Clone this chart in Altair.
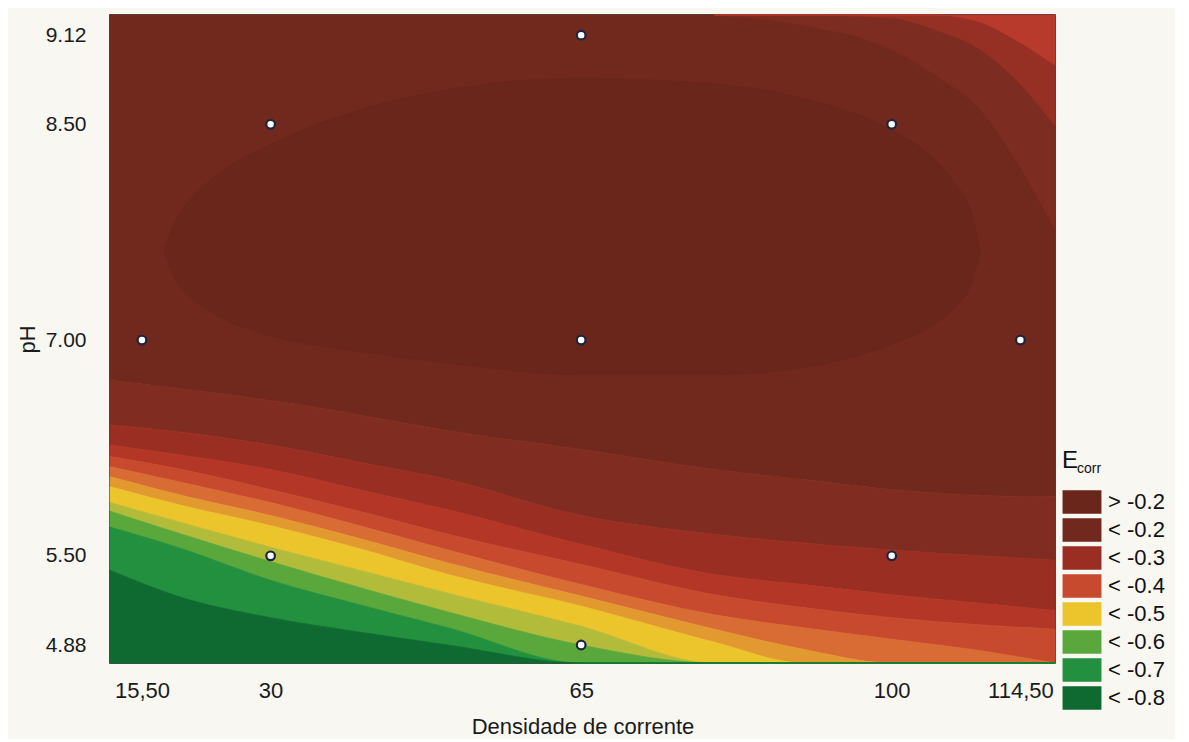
import altair as alt
import pandas as pd

# ---------------- data ----------------
# axis ticks
X_TICKS = [15.5, 30, 65, 100, 114.5]
X_TICK_LABELS = ["15,50", "30", "65", "100", "114,50"]
Y_TICKS = [4.88, 5.50, 7.00, 8.50, 9.12]
X_DOMAIN = [11.9, 118.4]
Y_DOMAIN = [4.755, 9.26]

# experimental design points (white dots)
PT_DENS = [15.5, 30, 30, 65, 65, 65, 100, 100, 114.5]
PT_PH = [7.00, 8.50, 5.50, 9.12, 7.00, 4.88, 8.50, 5.50, 7.00]

# contour boundaries (pH of each contour line at the densities below)
X_GRID = [11.9, 20, 30, 40, 50, 65, 80, 90, 100, 110, 118.4]
C_TOP = [9.26, 9.26, 9.26, 9.26, 9.26, 9.26, 9.26, 9.26, 9.26, 9.26, 9.26]
C1 = [6.72, 6.66, 6.58, 6.48, 6.37, 6.24, 6.10, 6.03, 5.96, 5.92, 5.91]
C2 = [6.41, 6.36, 6.27, 6.15, 6.03, 5.78, 5.65, 5.59, 5.54, 5.50, 5.47]
C3 = [6.27, 6.20, 6.10, 5.96, 5.82, 5.58, 5.37, 5.30, 5.23, 5.17, 5.12]
C4 = [6.19, 6.10, 5.96, 5.81, 5.65, 5.44, 5.23, 5.14, 5.07, 5.02, 4.99]
C5 = [6.12, 6.01, 5.87, 5.71, 5.54, 5.30, 5.09, 5.00, 4.92, 4.84, 4.755]
C6 = [6.05, 5.92, 5.78, 5.62, 5.45, 5.22, 4.99, 4.85, 4.755, 4.755, 4.755]
C7 = [5.98, 5.85, 5.71, 5.55, 5.37, 5.15, 4.90, 4.755, 4.755, 4.755, 4.755]
C8 = [5.87, 5.73, 5.56, 5.40, 5.24, 5.01, 4.755, 4.755, 4.755, 4.755, 4.755]
C9 = [5.81, 5.65, 5.46, 5.28, 5.11, 4.88, 4.755, 4.755, 4.755, 4.755, 4.755]
C10 = [5.70, 5.55, 5.33, 5.16, 5.00, 4.755, 4.755, 4.755, 4.755, 4.755, 4.755]
C11 = [5.40, 5.21, 5.07, 4.97, 4.88, 4.755, 4.755, 4.755, 4.755, 4.755, 4.755]
C_BOTTOM = [4.755, 4.755, 4.755, 4.755, 4.755, 4.755, 4.755, 4.755, 4.755, 4.755, 4.755]

MAIN_BANDS = ["< -0.2", "c1", "< -0.3", "c3", "< -0.4", "c5", "c6",
              "< -0.5", "c8", "< -0.6", "< -0.7", "< -0.8"]

# top-right corner (lower values again)
X_TR = [80, 90, 100, 105, 110, 114, 118.4]
TR_OUTER = [9.26, 9.19, 9.02, 8.84, 8.60, 8.25, 7.77]
TR_MID = [9.26, 9.26, 9.24, 9.155, 9.02, 8.81, 8.49]
TR_INNER = [9.26, 9.26, 9.26, 9.26, 9.21, 9.085, 8.91]
TR_TOP = [9.26, 9.26, 9.26, 9.26, 9.26, 9.26, 9.26]
TR_BANDS = ["tr1", "tr2", "tr3"]

# darkest core ( > -0.2 )
X_CORE = [18, 19, 21, 24, 30, 40, 50, 65, 80, 90, 100, 104, 107, 109, 110]
CORE_HI = [7.62, 7.80, 7.98, 8.15, 8.36, 8.60, 8.74, 8.82, 8.78, 8.68, 8.46, 8.30, 8.10, 7.88, 7.62]
CORE_LO = [7.62, 7.45, 7.30, 7.17, 7.03, 6.92, 6.84, 6.76, 6.76, 6.81, 6.97, 7.08, 7.22, 7.40, 7.62]

LEGEND_LABELS = ["> -0.2", "< -0.2", "< -0.3", "< -0.4", "< -0.5", "< -0.6", "< -0.7", "< -0.8"]
BAND_NAMES = ["> -0.2", "< -0.2", "c1", "< -0.3", "c3", "< -0.4", "c5", "c6",
              "< -0.5", "c8", "< -0.6", "< -0.7", "< -0.8", "tr1", "tr2", "tr3"]
BAND_COLORS = ["#6a261b", "#71291d", "#802c20", "#9a2e22", "#b33626", "#c84a2e", "#d86c34", "#e29a30",
               "#ecc42c", "#b2bc3a", "#5aa83c", "#22903e", "#0e6a30", "#7c2c20", "#963024", "#b83a2c"]

# ---------------- tables ----------------
main_lines = [C_TOP, C1, C2, C3, C4, C5, C6, C7, C8, C9, C10, C11, C_BOTTOM]
rows = []
for i, name in enumerate(MAIN_BANDS):
    for j, xv in enumerate(X_GRID):
        rows.append({"x": xv, "hi": main_lines[i][j], "lo": main_lines[i + 1][j], "band": name})
main_df = pd.DataFrame(rows)

extra = []
tr_lines = [TR_OUTER, TR_MID, TR_INNER, TR_TOP]
for i, name in enumerate(TR_BANDS):
    for j, xv in enumerate(X_TR):
        extra.append({"x": xv, "lo": tr_lines[i][j], "hi": tr_lines[i + 1][j], "band": name})
for j, xv in enumerate(X_CORE):
    extra.append({"x": xv, "lo": CORE_LO[j], "hi": CORE_HI[j], "band": "> -0.2"})
extra_df = pd.DataFrame(extra)

pts_df = pd.DataFrame({"dens": PT_DENS, "ph": PT_PH})

FONT = "Liberation Sans"

label_expr = " : ".join(
    f"datum.value == {v} ? '{t}'" for v, t in zip(X_TICKS, X_TICK_LABELS)
) + " : ''"

xscale = alt.Scale(domain=X_DOMAIN, nice=False, zero=False)
yscale = alt.Scale(domain=Y_DOMAIN, nice=False, zero=False)
band_scale = alt.Scale(domain=BAND_NAMES, range=BAND_COLORS)

xaxis = alt.Axis(values=X_TICKS, labelExpr=label_expr, title="Densidade de corrente",
                 grid=False, ticks=False, domain=False, labelFont=FONT, labelFontSize=22,
                 labelColor="#1a1a1a", labelPadding=17, titleFont=FONT, titleFontSize=22,
                 titleFontWeight="normal", titleColor="#1a1a1a", titlePadding=15,
                 labelFlush=False, labelOverlap=False)
yaxis = alt.Axis(values=Y_TICKS, format=".2f", title="pH", grid=False, ticks=False, domain=False,
                 labelFont=FONT, labelFontSize=21, labelColor="#1a1a1a", labelPadding=24,
                 titleFont=FONT, titleFontSize=22, titleFontWeight="normal", titleColor="#1a1a1a",
                 titlePadding=6, labelFlush=False, labelOverlap=False)

legend = alt.Legend(values=LEGEND_LABELS, orient="none", legendX=960, legendY=475, title=None,
                    symbolType="M-1.7,-1H1.7V1H-1.7Z", symbolSize=484, symbolStrokeColor="#222222",
                    symbolStrokeWidth=1.5, symbolOpacity=1, labelFont=FONT, labelFontSize=22,
                    labelColor="#111111", labelOffset=14, rowPadding=0, padding=0)

color_enc = alt.Color("band:N", scale=band_scale, legend=legend)
stroke_enc = alt.Stroke("band:N", scale=band_scale, legend=None)

main = alt.Chart(main_df).mark_area(interpolate="monotone", strokeWidth=0.8).encode(
    x=alt.X("x:Q", scale=xscale, axis=xaxis),
    y=alt.Y("lo:Q", scale=yscale, axis=yaxis),
    y2="hi:Q",
    color=color_enc,
    stroke=stroke_enc,
)

extra_layer = alt.Chart(extra_df).mark_area(interpolate="monotone", strokeWidth=0.8).encode(
    x=alt.X("x:Q", scale=xscale),
    y=alt.Y("lo:Q", scale=yscale),
    y2="hi:Q",
    color=color_enc,
    stroke=stroke_enc,
)

points = alt.Chart(pts_df).mark_point(filled=True, fill="white", stroke="#1b2440",
                                      strokeWidth=2.2, size=75, opacity=1).encode(
    x=alt.X("dens:Q", scale=xscale),
    y=alt.Y("ph:Q", scale=yscale),
)

e_txt = alt.Chart(pd.DataFrame({"t": ["E"]})).mark_text(
    align="left", baseline="alphabetic", font=FONT, fontSize=24, color="#111111"
).encode(text="t:N", x=alt.value(952), y=alt.value(453))
corr_txt = alt.Chart(pd.DataFrame({"t": ["corr"]})).mark_text(
    align="left", baseline="alphabetic", font=FONT, fontSize=14, color="#111111"
).encode(text="t:N", x=alt.value(967), y=alt.value(458))

chart = alt.layer(main, extra_layer, points, e_txt, corr_txt).properties(
    width=945, height=648,
    autosize=alt.AutoSizeParams(type="none"),
    padding={"left": 102, "top": 7, "right": 120, "bottom": 76},
    background="#f8f7f2",
).configure_view(stroke="#111111", strokeWidth=1.5)

chart.save("out.html", embed_options={"renderer": "svg", "actions": False})
